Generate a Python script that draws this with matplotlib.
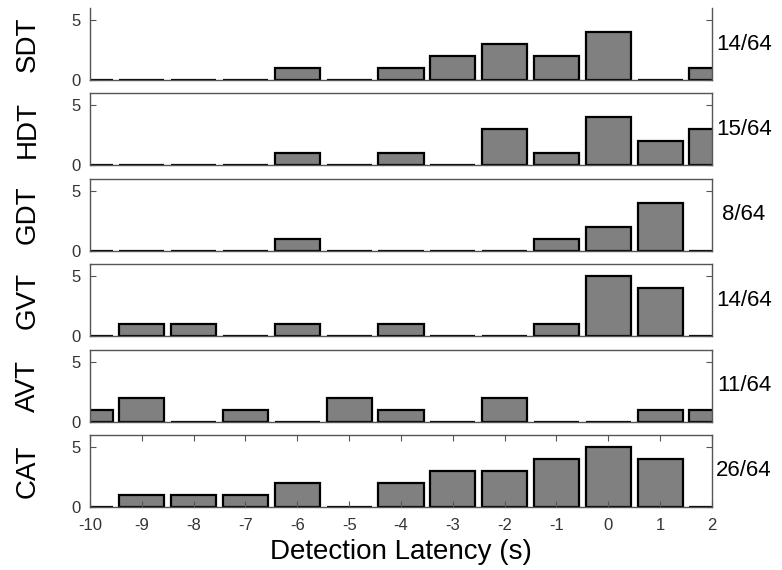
import matplotlib.pyplot as plt
import numpy as np

plt.rcParams['font.family'] = ['Liberation Sans', 'DejaVu Sans']
plt.rcParams['axes.unicode_minus'] = False

# bin centres (s) and counts per detector
latency = np.arange(-10, 3)
names = ["SDT", "HDT", "GDT", "GVT", "AVT", "CAT"]
sdt = [0, 0, 0, 0, 1, 0, 1, 2, 3, 2, 4, 0, 1]
hdt = [0, 0, 0, 0, 1, 0, 1, 0, 3, 1, 4, 2, 3]
gdt = [0, 0, 0, 0, 1, 0, 0, 0, 0, 1, 2, 4, 0]
gvt = [0, 1, 1, 0, 1, 0, 1, 0, 0, 1, 5, 4, 0]
avt = [1, 2, 0, 1, 0, 2, 1, 0, 2, 0, 0, 1, 1]
cat = [0, 1, 1, 1, 2, 0, 2, 3, 3, 4, 5, 4, 0]
counts = [sdt, hdt, gdt, gvt, avt, cat]
ratios = ["14/64", "15/64", "8/64", "14/64", "11/64", "26/64"]

W, H = 782, 570
fig = plt.figure(figsize=(W / 100, H / 100), dpi=100)

left, right = 90, 712
ph = 72
bottoms = [80 + 85.4 * i for i in range(6)]

for i, (name, c, r) in enumerate(zip(names, counts, ratios)):
    b = bottoms[i]
    ax = fig.add_axes([left / W, 1 - b / H, (right - left) / W, ph / H])
    ax.bar(latency, c, width=0.87, color='#808080', edgecolor='black',
           linewidth=1.6)
    ax.set_xlim(-10, 2)
    ax.set_ylim(0, 6)
    ax.set_yticks([0, 5])
    ax.tick_params(axis='y', direction='in', length=4, left=True, right=True,
                   labelsize=12, labelcolor='#333333', color='#555555', pad=7)
    for s in ax.spines.values():
        s.set_color('#555555')
        s.set_linewidth(1.0)
    if i == 0:
        ax.spines['top'].set_visible(False)
    ax.set_ylabel(name, fontsize=20, labelpad=22)
    ax.text((744 - left) / (right - left), 0.5, r, transform=ax.transAxes,
            fontsize=16, ha='center', va='center', clip_on=False)
    if i == 5:
        ax.set_xticks(latency)
        ax.tick_params(axis='x', direction='in', length=4, top=True,
                       labelsize=12, labelcolor='#333333', color='#555555', pad=8)
        ax.set_xlabel("Detection Latency (s)", fontsize=20, labelpad=4)
    else:
        ax.set_xticks([])

fig.savefig("out.png", dpi=100)
